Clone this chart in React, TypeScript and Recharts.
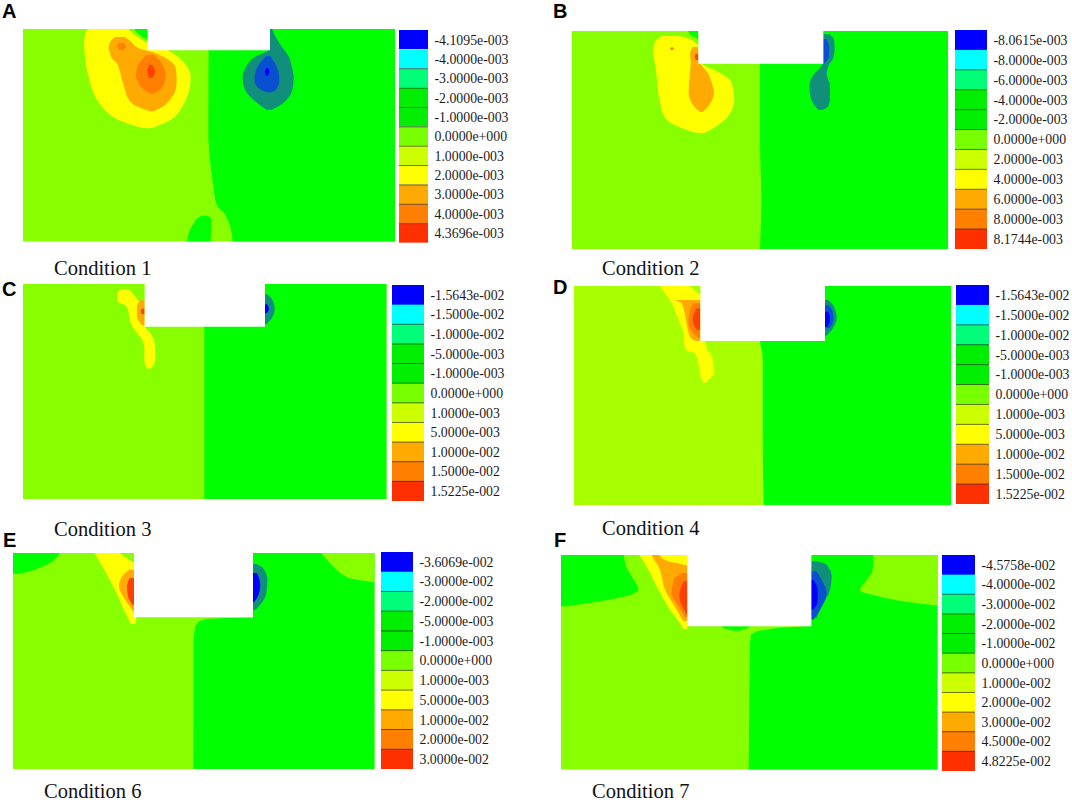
import { Area, Bar, BarChart, ComposedChart, XAxis, YAxis } from 'recharts';

// contour outlines: [y, left edge, right edge], in 1/3 pixel units of each crop
const rows = (...r: number[][]) => r.map(([y, a, b]) => ({ y, x: [a, b] }));

const L = '#88ff00';
const L2 = '#a8ff00';
const G = '#00ff00';
const Y = '#ffff00';
const AM = '#ffaa00';
const OR = '#ff8000';
const RD = '#ff4000';
const TE = '#10907a';
const MB = '#0850d0';
const BL = '#0000ff';

const barColors = [BL, '#00ffff', '#00ff78', '#00ee00', '#00ee00', '#78ff00', '#ccff00', Y, AM, OR, '#ff3000'];

// A
const aLeft = rows([88, 69, 1185], [726, 69, 1185]);
const aRight = rows([88, 626, 1185], [400, 625, 1185], [500, 632, 1185], [560, 640, 1185], [615, 650, 1185], [640, 672, 1185], [680, 690, 1185], [726, 698, 1185]);
const aHole = rows([648, 605, 622], [655, 593, 632], [670, 582, 635], [690, 570, 634], [710, 564, 632], [726, 562, 632]);
const aCorner = rows([88, 403, 443], [100, 412, 443], [112, 428, 443], [120, 440, 443]);
const aYellow = rows([88, 262, 385], [110, 254, 410], [130, 252, 443], [150, 253, 500], [170, 255, 532], [200, 258, 560], [230, 265, 572], [260, 273, 570], [290, 285, 562], [320, 305, 548], [345, 330, 530], [365, 365, 505], [377, 400, 478], [384, 425, 458], [386, 436, 448]);
const aAmber = rows([112, 345, 375], [125, 332, 392], [145, 326, 415], [160, 330, 465], [175, 335, 497], [190, 350, 518], [210, 358, 528], [240, 366, 530], [270, 375, 527], [300, 387, 510], [320, 410, 490], [335, 450, 462]);
const aOrange = rows([165, 440, 462], [180, 425, 478], [200, 413, 490], [225, 408, 497], [250, 415, 493], [270, 432, 480], [282, 452, 462]);
const aRed = rows([195, 448, 456], [215, 442, 465], [235, 448, 458]);
const aDot = rows([130, 358, 372], [140, 352, 378], [150, 358, 372]);
const aTeal = rows([88, 810, 816], [110, 810, 826], [130, 810, 838], [152, 805, 853], [170, 768, 866], [195, 742, 874], [235, 728, 881], [270, 735, 877], [300, 760, 860], [320, 785, 835], [330, 800, 815]);
const aMid = rows([168, 800, 810], [190, 780, 825], [215, 767, 835], [240, 763, 838], [265, 775, 832], [278, 800, 815]);
const aBlue = rows([205, 799, 804], [216, 795, 808], [228, 799, 804]);
const aLabels = ['-4.1095e-003', '-4.0000e-003', '-3.0000e-003', '-2.0000e-003', '-1.0000e-003', '0.0000e+000', '1.0000e-003', '2.0000e-003', '3.0000e-003', '4.0000e-003', '4.3696e-003'];

// B
const bLeft = rows([95, 96, 1224], [750, 96, 1224]);
const bRight = rows([95, 660, 1224], [430, 660, 1224], [600, 664, 1224], [750, 660, 1224]);
const bCorner = rows([95, 445, 475], [105, 450, 475], [118, 470, 475]);
const bYellow = rows([110, 365, 420], [125, 347, 460], [150, 340, 478], [180, 342, 480], [193, 345, 485], [215, 348, 530], [250, 352, 575], [300, 358, 583], [350, 372, 565], [380, 410, 530], [395, 450, 505], [402, 475, 490]);
const bAmber = rows([143, 458, 475], [165, 450, 475], [190, 452, 480], [220, 450, 503], [250, 447, 515], [280, 446, 522], [310, 455, 512], [330, 470, 497], [338, 480, 488]);
const bRed = rows([163, 468, 475], [172, 464, 475], [182, 468, 475]);
const bDot = rows([144, 394, 398], [148, 390, 402], [152, 394, 398]);
const bTeal = rows([105, 850, 868], [120, 850, 882], [150, 850, 884], [180, 850, 878], [200, 845, 865], [225, 822, 860], [260, 808, 870], [295, 812, 870], [320, 825, 865], [332, 835, 848]);
const bMid = rows([120, 850, 860], [150, 850, 868], [175, 850, 866], [190, 850, 855]);
const bLabels = ['-8.0615e-003', '-8.0000e-003', '-6.0000e-003', '-4.0000e-003', '-2.0000e-003', '0.0000e+000', '2.0000e-003', '4.0000e-003', '6.0000e-003', '8.0000e-003', '8.1744e-003'];

// C
const cLeft = rows([44, 68, 1159], [689, 68, 1159]);
const cRight = rows([44, 612, 1159], [689, 612, 1159]);
const cYellow = rows([60, 360, 385], [75, 350, 400], [95, 350, 415], [110, 378, 433], [170, 395, 433], [185, 405, 445], [210, 425, 460], [240, 432, 465], [270, 432, 465], [290, 435, 458], [298, 442, 450]);
const cAmber = rows([93, 420, 433], [110, 410, 433], [140, 410, 433], [168, 425, 433]);
const cRed = rows([118, 424, 433], [126, 421, 433], [134, 424, 433]);
const cTeal = rows([75, 794, 800], [90, 794, 815], [118, 794, 823], [145, 794, 815], [165, 794, 798]);
const cBlue = rows([105, 794, 800], [118, 794, 806], [132, 794, 800]);
const cLabels = ['-1.5643e-002', '-1.5000e-002', '-1.0000e-002', '-5.0000e-003', '-1.0000e-003', '0.0000e+000', '1.0000e-003', '5.0000e-003', '1.0000e-002', '1.5000e-002', '1.5225e-002'];

// D
const dLeft = rows([48, 42, 1173], [705, 42, 1173]);
const dRight = rows([48, 600, 1173], [213, 600, 1173], [260, 608, 1173], [500, 608, 1173], [705, 611, 1173]);
const dYellow = rows([48, 300, 395], [70, 315, 421], [100, 335, 421], [150, 355, 421], [200, 372, 421], [213, 372, 435], [240, 378, 442], [250, 405, 450], [280, 415, 460], [310, 420, 463], [330, 425, 445], [338, 432, 438]);
const dCorner = rows([48, 390, 421], [60, 402, 421], [72, 415, 421]);
const dAmber = rows([90, 345, 421], [100, 365, 421], [150, 378, 421], [200, 390, 421], [213, 405, 421]);
const dOrange = rows([100, 400, 421], [120, 390, 421], [160, 385, 421], [190, 400, 421], [205, 415, 421]);
const dRed = rows([115, 410, 421], [150, 398, 421], [180, 410, 421]);
const dTeal = rows([90, 795, 805], [110, 795, 822], [145, 795, 830], [180, 795, 815], [197, 795, 800]);
const dMid = rows([105, 795, 805], [125, 795, 818], [150, 795, 820], [175, 795, 808]);
const dBlue = rows([125, 795, 805], [148, 795, 810], [170, 795, 803]);

// E
const eLeft = rows([70, 40, 1125], [718, 40, 1125]);
const eRight = rows([70, 760, 1125], [264, 760, 1125], [265, 680, 1125], [268, 620, 1125], [275, 598, 1125], [290, 587, 1125], [320, 582, 1125], [718, 581, 1125]);
const eCornerL = rows([70, 40, 180], [90, 40, 165], [110, 40, 130], [125, 40, 90], [132, 40, 60]);
const eCornerR = rows([70, 965, 1125], [90, 982, 1125], [115, 1005, 1125], [135, 1030, 1125], [148, 1060, 1125], [157, 1120, 1125]);
const eYellow = rows([70, 285, 360], [97, 300, 403], [150, 330, 403], [200, 355, 403], [240, 372, 403], [265, 385, 410], [282, 392, 408]);
const eNotchTop = rows([70, 360, 403], [85, 380, 403], [97, 400, 403]);
const eAmber = rows([120, 388, 403], [140, 368, 403], [170, 358, 403], [200, 370, 403], [230, 390, 403], [245, 400, 403]);
const eOrange = rows([145, 390, 403], [170, 382, 403], [200, 385, 403], [225, 398, 403]);
const eTeal = rows([103, 760, 770], [115, 760, 790], [150, 760, 803], [190, 760, 800], [225, 760, 782], [242, 760, 765]);
const eBlue = rows([130, 760, 772], [165, 760, 782], [200, 760, 775], [218, 760, 763]);
const eLabels = ['-3.6069e-002', '-3.0000e-002', '-2.0000e-002', '-5.0000e-003', '-1.0000e-003', '0.0000e+000', '1.0000e-003', '5.0000e-003', '1.0000e-002', '2.0000e-002', '3.0000e-002'];

// F
const fLeft = rows([76, 33, 1163], [720, 33, 1163]);
const fRight = rows([76, 784, 1163], [289, 784, 1163], [295, 680, 1163], [305, 620, 1163], [315, 603, 1163], [340, 600, 1163], [500, 598, 1163], [720, 596, 1163]);
const fBump = rows([290, 512, 600], [297, 525, 590], [303, 550, 565]);
const fCornerL = rows([76, 33, 222], [110, 33, 228], [140, 33, 245], [180, 33, 265], [200, 33, 225], [215, 33, 150], [230, 33, 50]);
const fCornerR = rows([76, 970, 1163], [120, 968, 1163], [150, 950, 1163], [182, 930, 1163], [200, 985, 1163], [215, 1060, 1163], [227, 1150, 1163]);
const fYellow = rows([76, 268, 410], [120, 295, 412], [180, 325, 412], [240, 360, 412], [275, 385, 412], [298, 400, 412]);
const fAmber = rows([76, 305, 328], [95, 315, 355], [110, 325, 412], [180, 345, 412], [240, 380, 412], [275, 400, 412]);
const fYellowTop = rows([76, 328, 412], [90, 352, 412], [105, 405, 412]);
const fOrange = rows([130, 395, 412], [150, 372, 412], [190, 365, 412], [230, 385, 412], [262, 405, 412]);
const fRed = rows([155, 400, 412], [200, 388, 412], [240, 402, 412], [255, 410, 412]);
const fTeal = rows([95, 784, 800], [105, 784, 830], [140, 784, 845], [180, 784, 840], [230, 784, 815], [265, 784, 800]);
const fMid = rows([125, 784, 800], [150, 784, 815], [190, 784, 830], [240, 784, 810], [270, 784, 790]);
const fBlue = rows([150, 784, 790], [180, 784, 803], [215, 784, 803], [240, 784, 790]);
const fLabels = ['-4.5758e-002', '-4.0000e-002', '-3.0000e-002', '-2.0000e-002', '-1.0000e-002', '0.0000e+000', '1.0000e-002', '2.0000e-002', '3.0000e-002', '4.5000e-002', '4.8225e-002'];

type Row = { y: number; x: number[] };
type Layer = [Row[], string, string?];

const panels = [
  {
    letter: 'A', title: 'Condition 1', left: 23, top: 29, xd: [69, 1185], yd: [88, 726], notch: [443, 810, 152],
    layers: [[aLeft, L, 'linear'], [aRight, G], [aHole, G], [aCorner, G], [aYellow, Y], [aAmber, AM], [aOrange, OR], [aRed, RD], [aDot, OR], [aTeal, TE], [aMid, MB], [aBlue, BL]] as Layer[],
    labels: aLabels, bar: [399, 30, 29, 213], letterPos: [2, 0], titlePos: [54, 260],
  },
  {
    letter: 'B', title: 'Condition 2', left: 572, top: 31, xd: [96, 1224], yd: [95, 750], notch: [475, 850, 193],
    layers: [[bLeft, L, 'linear'], [bRight, G], [bCorner, G], [bYellow, Y], [bAmber, AM], [bRed, RD], [bDot, OR], [bTeal, TE], [bMid, MB]] as Layer[],
    labels: bLabels, bar: [955, 30, 32, 219], letterPos: [553, 0], titlePos: [602, 260],
  },
  {
    letter: 'C', title: 'Condition 3', left: 23, top: 284, xd: [68, 1159], yd: [44, 689], notch: [433, 794, 172],
    layers: [[cLeft, L, 'linear'], [cRight, G, 'linear'], [cYellow, Y], [cAmber, AM], [cRed, RD], [cTeal, TE], [cBlue, BL]] as Layer[],
    labels: cLabels, bar: [392, 285, 32, 216], letterPos: [2, 278], titlePos: [54, 521],
  },
  {
    letter: 'D', title: 'Condition 4', left: 574, top: 286, xd: [42, 1173], yd: [48, 705], notch: [421, 795, 213],
    layers: [[dLeft, L2, 'linear'], [dRight, G], [dYellow, Y], [dCorner, L2], [dAmber, AM], [dOrange, OR], [dRed, RD], [dTeal, TE], [dMid, MB], [dBlue, BL]] as Layer[],
    labels: cLabels, bar: [956, 285, 33, 219], letterPos: [553, 276], titlePos: [602, 520],
  },
  {
    letter: 'E', title: 'Condition 6', left: 13, top: 553, xd: [40, 1125], yd: [70, 718], notch: [403, 760, 263],
    layers: [[eLeft, L, 'linear'], [eRight, G, 'linear'], [eCornerL, G], [eCornerR, L], [eYellow, Y], [eNotchTop, L], [eAmber, AM], [eOrange, RD], [eTeal, TE], [eBlue, BL]] as Layer[],
    labels: eLabels, bar: [381, 552, 32, 217], letterPos: [3, 529], titlePos: [44, 783],
  },
  {
    letter: 'F', title: 'Condition 7', left: 561, top: 555, xd: [33, 1163], yd: [76, 720], notch: [412, 784, 290],
    layers: [[fLeft, L, 'linear'], [fRight, G, 'linear'], [fBump, G], [fCornerL, G], [fCornerR, L], [fYellow, Y], [fAmber, AM], [fYellowTop, Y], [fOrange, OR], [fRed, RD], [fTeal, TE], [fMid, MB], [fBlue, BL]] as Layer[],
    labels: fLabels, bar: [942, 555, 33, 216], letterPos: [554, 529], titlePos: [592, 783],
  },
];

const serif = '"Liberation Serif", serif';
const sans = '"Liberation Sans", sans-serif';

function ColorBar({ labels, bar }: { labels: string[]; bar: number[] }) {
  const data = labels.map((label) => ({ label, v: 1 }));
  const labelWidth = 83;
  return (
    <div style={{ position: 'absolute', left: bar[0], top: bar[1] }}>
      <BarChart
        width={bar[2] + labelWidth}
        height={bar[3]}
        data={data}
        layout="vertical"
        barCategoryGap={0}
        margin={{ top: 0, right: 0, bottom: 0, left: 0 }}
      >
        <XAxis type="number" domain={[0, 1]} hide />
        <YAxis
          type="category"
          dataKey="label"
          orientation="right"
          width={labelWidth}
          interval={0}
          axisLine={false}
          tickLine={false}
          tickSize={0}
          tickMargin={6.5}
          tick={{ fontSize: 13.8, fontFamily: serif, fill: '#1a1a1a' }}
        />
        <Bar
          dataKey="v"
          isAnimationActive={false}
          shape={(p: any) => (
            <g>
              <rect x={p.x} y={p.y} width={p.width} height={p.height} fill={barColors[p.index]} />
              {p.index > 1 && <line x1={p.x} x2={p.x + p.width} y1={p.y} y2={p.y} stroke="#000" strokeOpacity={0.55} />}
            </g>
          )}
        />
      </BarChart>
    </div>
  );
}

function Contour({ p }: { p: (typeof panels)[number] }) {
  const notch = rows([p.yd[0], p.notch[0], p.notch[1]], [p.notch[2], p.notch[0], p.notch[1]]);
  const layers: Layer[] = [...p.layers, [notch, '#ffffff', 'linear']];
  return (
    <div style={{ position: 'absolute', left: p.left, top: p.top }}>
      <ComposedChart
        width={(p.xd[1] - p.xd[0]) / 3}
        height={(p.yd[1] - p.yd[0]) / 3}
        layout="vertical"
        margin={{ top: 0, right: 0, bottom: 0, left: 0 }}
      >
        <XAxis type="number" dataKey="x" domain={p.xd} allowDataOverflow hide />
        <YAxis type="number" dataKey="y" domain={p.yd} allowDataOverflow hide />
        {layers.map(([data, color, curve], i) => (
          <Area
            key={i}
            data={data}
            dataKey="x"
            type={(curve as any) ?? 'monotone'}
            fill={color}
            fillOpacity={1}
            stroke="none"
            dot={false}
            activeDot={false}
            isAnimationActive={false}
          />
        ))}
      </ComposedChart>
    </div>
  );
}

export default function App() {
  return (
    <div style={{ position: 'absolute', left: 0, top: 0, width: 1072, height: 800, background: '#fff', overflow: 'hidden' }}>
      {panels.map((p) => (
        <div key={p.letter}>
          <Contour p={p} />
          <ColorBar labels={p.labels} bar={p.bar} />
          <div style={{ position: 'absolute', left: p.letterPos[0], top: p.letterPos[1], font: `bold 20px ${sans}`, color: '#000' }}>{p.letter}</div>
          <div style={{ position: 'absolute', left: p.titlePos[0], top: p.titlePos[1], font: `20.5px/16px ${serif}`, color: '#111', whiteSpace: 'nowrap' }}>{p.title}</div>
        </div>
      ))}
    </div>
  );
}
